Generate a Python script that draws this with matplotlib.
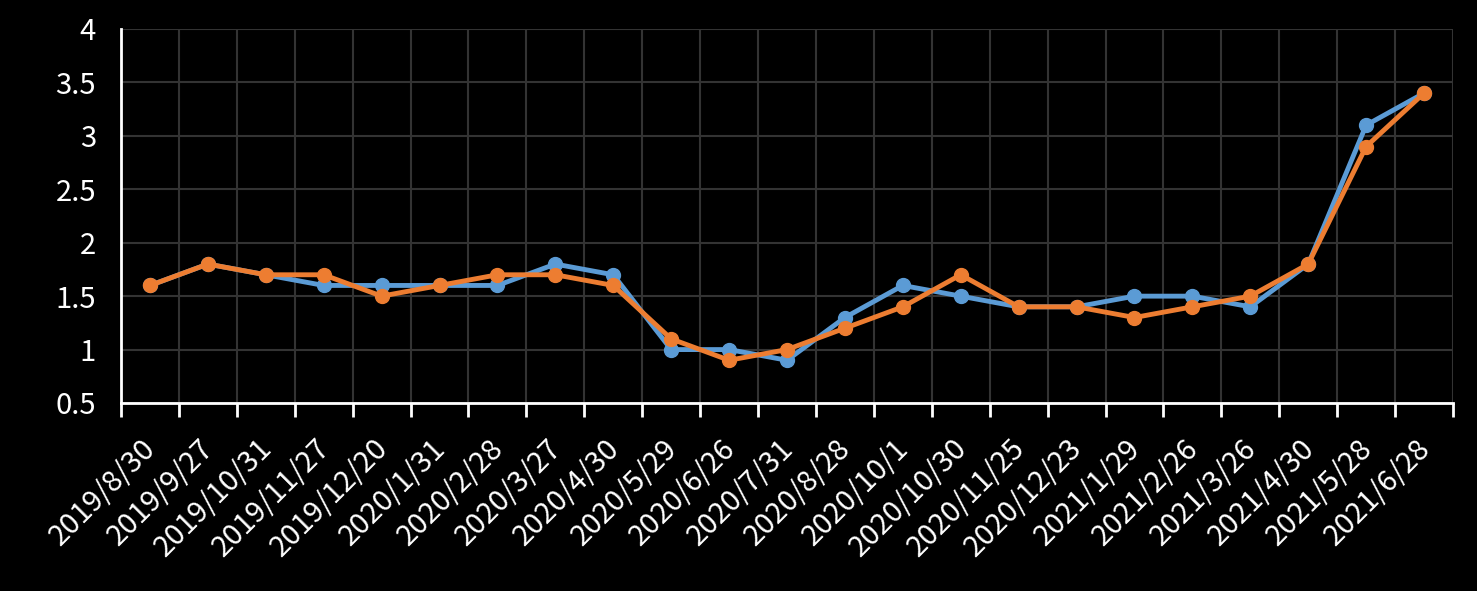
import numpy as np
import matplotlib.pyplot as plt
import matplotlib.transforms as mtrans

dates = ['2019/8/30', '2019/9/27', '2019/10/31', '2019/11/27', '2019/12/20',
         '2020/1/31', '2020/2/28', '2020/3/27', '2020/4/30', '2020/5/29',
         '2020/6/26', '2020/7/31', '2020/8/28', '2020/10/1', '2020/10/30',
         '2020/11/25', '2020/12/23', '2021/1/29', '2021/2/26', '2021/3/26',
         '2021/4/30', '2021/5/28', '2021/6/28']
blue = [1.6, 1.8, 1.7, 1.6, 1.6, 1.6, 1.6, 1.8, 1.7, 1.0, 1.0, 0.9, 1.3, 1.6,
        1.5, 1.4, 1.4, 1.5, 1.5, 1.4, 1.8, 3.1, 3.4]
orange = [1.6, 1.8, 1.7, 1.7, 1.5, 1.6, 1.7, 1.7, 1.6, 1.1, 0.9, 1.0, 1.2, 1.4,
          1.7, 1.4, 1.4, 1.3, 1.4, 1.5, 1.8, 2.9, 3.4]
yticks = [0.5, 1, 1.5, 2, 2.5, 3, 3.5, 4]
ylabels = ['0.5', '1', '1.5', '2', '2.5', '3', '3.5', '4']

plt.rcParams['font.family'] = ['Noto Sans CJK SC', 'DejaVu Sans']

fig = plt.figure(figsize=(14.77, 5.91), dpi=100, facecolor='black')
ax = fig.add_axes([121/1477, 1-403/591, (1453-121)/1477, (403-29)/591])
ax.set_facecolor('black')

x = np.arange(len(dates))
ax.plot(x, blue, color='#5B9BD5', lw=3.5, marker='o', ms=10, zorder=3)
ax.plot(x, orange, color='#ED7D31', lw=3.5, marker='o', ms=10, zorder=4)

ax.set_xlim(-0.5, len(dates)-0.5)
ax.set_ylim(0.5, 4)

# gridlines between categories
bounds = np.arange(len(dates)+1) - 0.5
for b in bounds[1:]:
    ax.axvline(b, color='#333333', lw=1.5, zorder=1)
ax.set_yticks(yticks)
ax.set_yticklabels(ylabels, color='white', fontsize=21)
ax.yaxis.grid(True, color='#333333', lw=1.5, zorder=1)
ax.tick_params(axis='y', length=0, pad=18)

ax.set_xticks(bounds, minor=True)
ax.set_xticks(x)
ax.set_xticklabels(dates, rotation=45, ha='right', rotation_mode='anchor',
                   color='white', fontsize=21)
ax.tick_params(axis='x', which='major', length=0, pad=22)
ax.tick_params(axis='x', which='minor', length=10, width=2, color='white')
# nudge date labels left a little
shift = mtrans.ScaledTranslation(-9/100, 0, fig.dpi_scale_trans)
for lab in ax.get_xticklabels():
    lab.set_transform(lab.get_transform() + shift)

for s in ['top', 'right']:
    ax.spines[s].set_visible(False)
for s in ['left', 'bottom']:
    ax.spines[s].set_color('white')
    ax.spines[s].set_linewidth(2)

fig.savefig('out.png', facecolor='black')
